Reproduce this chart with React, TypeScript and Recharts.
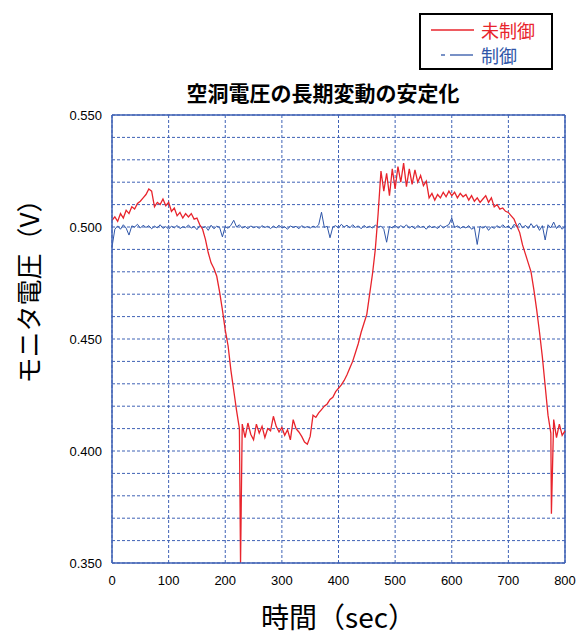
import React from 'react';
import {
  LineChart,
  Line,
  XAxis,
  YAxis,
  CartesianGrid,
  Legend,
  ReferenceLine,
} from 'recharts';

// sampling interval of the logged voltages (sec)
const TIME_STEP = 5;

// 未制御 (uncontrolled) monitor voltage, one value every 5 sec from 0 to 800
const RED_VALUES = [
  0.5030, 0.5045, 0.5025, 0.5060, 0.5040, 0.5075, 0.5060, 0.5090, 0.5080, 0.5105,
  0.5115, 0.5130, 0.5145, 0.5170, 0.5160, 0.5090, 0.5110, 0.5100, 0.5125, 0.5095,
  0.5110, 0.5070, 0.5085, 0.5050, 0.5065, 0.5040, 0.5060, 0.5045, 0.5060, 0.5035,
  0.5040, 0.5010, 0.4990, 0.4945, 0.4885, 0.4840, 0.4815, 0.4780, 0.4710, 0.4630,
  0.4540, 0.4470, 0.4360, 0.4270, 0.4180, 0.4100, 0.4120, 0.4060, 0.4125, 0.4075,
  0.4050, 0.4120, 0.4080, 0.4110, 0.4060, 0.4100, 0.4090, 0.4155, 0.4110, 0.4085,
  0.4105, 0.4070, 0.4095, 0.4050, 0.4140, 0.4100, 0.4085, 0.4065, 0.4040, 0.4030,
  0.4065, 0.4160, 0.4150, 0.4170, 0.4185, 0.4200, 0.4210, 0.4230, 0.4240, 0.4265,
  0.4280, 0.4295, 0.4315, 0.4340, 0.4370, 0.4400, 0.4440, 0.4480, 0.4530, 0.4570,
  0.4610, 0.4700, 0.4790, 0.4900, 0.5060, 0.5250, 0.5160, 0.5240, 0.5140, 0.5260,
  0.5170, 0.5270, 0.5200, 0.5285, 0.5180, 0.5260, 0.5190, 0.5255, 0.5200, 0.5230,
  0.5185, 0.5205, 0.5130, 0.5150, 0.5120, 0.5145, 0.5130, 0.5155, 0.5135, 0.5160,
  0.5140, 0.5155, 0.5130, 0.5150, 0.5135, 0.5145, 0.5120, 0.5140, 0.5115, 0.5130,
  0.5110, 0.5125, 0.5140, 0.5110, 0.5130, 0.5090, 0.5100, 0.5080, 0.5085, 0.5070,
  0.5065, 0.5050, 0.5035, 0.5005, 0.4975, 0.4920, 0.4880, 0.4840, 0.4800, 0.4720,
  0.4630, 0.4530, 0.4420, 0.4290, 0.4160, 0.4080, 0.4140, 0.4060, 0.4120, 0.4070,
  0.4090,
];

// short drop-outs of the uncontrolled signal
const RED_SPIKES = [
  { t: 227, v: 0.350 },
  { t: 776, v: 0.372 },
];

// 制御 (controlled) monitor voltage, one value every 5 sec from 0 to 800
const BLUE_VALUES = [
  0.4910, 0.4990, 0.5005, 0.4990, 0.5010, 0.4995, 0.4964, 0.5005, 0.5000, 0.5012,
  0.4995, 0.5008, 0.4998, 0.5006, 0.4992, 0.5004, 0.4996, 0.5010, 0.4994, 0.5002,
  0.4990, 0.5004, 0.4996, 0.5007, 0.4993, 0.5001, 0.4997, 0.5009, 0.4995, 0.5003,
  0.4988, 0.5006, 0.4996, 0.5002, 0.4985, 0.5008, 0.4992, 0.5004, 0.4998, 0.4956,
  0.5002, 0.4994, 0.5008, 0.5030, 0.5000, 0.5010, 0.4995, 0.5003, 0.4992, 0.5005,
  0.4997, 0.5002, 0.4994, 0.5006, 0.4998, 0.5003, 0.4993, 0.5004, 0.4996, 0.5008,
  0.4995, 0.5001, 0.4990, 0.5005, 0.4998, 0.5003, 0.4992, 0.5006, 0.4997, 0.5002,
  0.4995, 0.5004, 0.4998, 0.5010, 0.5066, 0.4998, 0.5003, 0.4952, 0.5000, 0.5006,
  0.4995, 0.5012, 0.5000, 0.5008, 0.4996, 0.5010, 0.4998, 0.5005, 0.4992, 0.5007,
  0.4997, 0.5003, 0.4995, 0.5009, 0.4999, 0.5004, 0.4990, 0.4932, 0.5002, 0.4996,
  0.5008, 0.4994, 0.5006, 0.4997, 0.5010, 0.4995, 0.5004, 0.4992, 0.5007, 0.4998,
  0.5003, 0.4990, 0.5006, 0.4997, 0.5002, 0.4993, 0.5008, 0.4996, 0.5004, 0.5011,
  0.5040, 0.4998, 0.5005, 0.4994, 0.5002, 0.4996, 0.5006, 0.4990, 0.4998, 0.4922,
  0.5003, 0.4995, 0.5004, 0.4985, 0.5001, 0.4994, 0.5006, 0.4996, 0.5010, 0.4998,
  0.5004, 0.4990, 0.5012, 0.5000, 0.5018, 0.4995, 0.5008, 0.4993, 0.5015, 0.4997,
  0.5010, 0.4985, 0.5006, 0.4942, 0.5010, 0.4996, 0.5022, 0.4993, 0.5009, 0.4990,
  0.5003,
];

const X_TICKS = [0, 100, 200, 300, 400, 500, 600, 700, 800];
const Y_TICKS = [
  0.35, 0.36, 0.37, 0.38, 0.39, 0.40, 0.41, 0.42, 0.43, 0.44,
  0.45, 0.46, 0.47, 0.48, 0.49, 0.50, 0.51, 0.52, 0.53, 0.54, 0.55,
];

const TITLE = '空洞電圧の長期変動の安定化';
const X_LABEL = '時間（sec）';
const Y_LABEL = 'モニタ電圧（V）';
const RED_NAME = '未制御';
const BLUE_NAME = '制御';

const RED = '#e8242c';
const BLUE = '#2f56a8';
const GRID = '#3f62b5';
const JP_FONT = '"Noto Sans CJK JP", "Noto Sans", sans-serif';
const NUM_FONT = '"Liberation Sans", Arial, sans-serif';

const redData = [
  ...RED_VALUES.map((v, i) => ({ t: i * TIME_STEP, v })),
  ...RED_SPIKES,
].sort((a, b) => a.t - b.t);

const blueData = BLUE_VALUES.map((v, i) => ({ t: i * TIME_STEP, v }));

// only every fifth horizontal line carries a label
const formatY = (v: number) =>
  Math.round(v * 1000) % 50 === 0 ? v.toFixed(3) : '';

const LegendBox = () => (
  <div
    style={{
      position: 'relative',
      width: 134,
      height: 57,
      boxSizing: 'border-box',
      border: '2px solid #000',
      background: '#fff',
      fontFamily: JP_FONT,
      fontSize: 18,
      lineHeight: '18px',
    }}
  >
    <svg width={50} height={50} style={{ position: 'absolute', left: 8, top: 0 }}>
      <line x1={2} x2={45} y1={15} y2={15} stroke={RED} strokeWidth={1.3} />
      <line x1={12} x2={16} y1={40} y2={40} stroke={BLUE} strokeWidth={1.3} />
      <line x1={21} x2={44} y1={40} y2={40} stroke={BLUE} strokeWidth={1.3} />
    </svg>
    <div style={{ position: 'absolute', left: 60, top: 6, color: RED }}>{RED_NAME}</div>
    <div style={{ position: 'absolute', left: 60, top: 31, color: BLUE }}>{BLUE_NAME}</div>
  </div>
);

const YAxisLabel = ({ viewBox }: any) => {
  const x = viewBox.x + 27;
  const y = viewBox.y + viewBox.height / 2 - 54;
  return (
    <text
      x={x}
      y={y}
      transform={`rotate(-90, ${x}, ${y})`}
      textAnchor="middle"
      dominantBaseline="central"
      fontSize={26}
      fontFamily={JP_FONT}
      fill="#000"
    >
      {Y_LABEL}
    </text>
  );
};

export default function App() {
  return (
    <div style={{ position: 'absolute', left: 0, top: 0, width: 578, height: 635, background: '#fff' }}>
      <div
        style={{
          position: 'absolute',
          left: 173,
          top: 79,
          width: 300,
          textAlign: 'center',
          fontFamily: JP_FONT,
          fontWeight: 'bold',
          fontSize: 21,
          lineHeight: '26px',
          color: '#000',
          zIndex: 2,
        }}
      >
        {TITLE}
      </div>
      <LineChart
        width={578}
        height={635}
        margin={{ top: 115, right: 13, bottom: 0, left: 0 }}
      >
        <CartesianGrid stroke={GRID} strokeDasharray="3 2" strokeWidth={1} />
        <XAxis
          type="number"
          dataKey="t"
          domain={[0, 800]}
          ticks={X_TICKS}
          interval={0}
          height={72}
          tickLine={false}
          tickSize={0}
          tickMargin={13}
          axisLine={{ stroke: GRID, strokeWidth: 1.5 }}
          tick={{ fill: '#000', fontSize: 13, fontFamily: NUM_FONT }}
          label={{
            value: X_LABEL,
            position: 'insideBottom',
            offset: 7,
            style: { fontSize: 28, fontFamily: JP_FONT, fill: '#000' },
          }}
        />
        <YAxis
          type="number"
          domain={[0.35, 0.55]}
          ticks={Y_TICKS}
          interval={0}
          allowDataOverflow
          width={112}
          tickLine={false}
          tickSize={0}
          tickMargin={10}
          tickFormatter={formatY}
          axisLine={{ stroke: GRID, strokeWidth: 1.5 }}
          tick={{ fill: '#000', fontSize: 13, fontFamily: NUM_FONT }}
          label={<YAxisLabel />}
        />
        <ReferenceLine y={0.55} stroke={GRID} strokeWidth={1.5} />
        <ReferenceLine x={800} stroke={GRID} strokeWidth={1.5} />
        <Legend
          layout="horizontal"
          verticalAlign="middle"
          align="center"
          wrapperStyle={{ top: 13, left: 419, width: 134, height: 57 }}
          content={() => <LegendBox />}
        />
        <Line
          name={BLUE_NAME}
          data={blueData}
          dataKey="v"
          type="linear"
          stroke={BLUE}
          strokeWidth={1}
          dot={false}
          isAnimationActive={false}
        />
        <Line
          name={RED_NAME}
          data={redData}
          dataKey="v"
          type="linear"
          stroke={RED}
          strokeWidth={1.3}
          dot={false}
          isAnimationActive={false}
        />
      </LineChart>
    </div>
  );
}
